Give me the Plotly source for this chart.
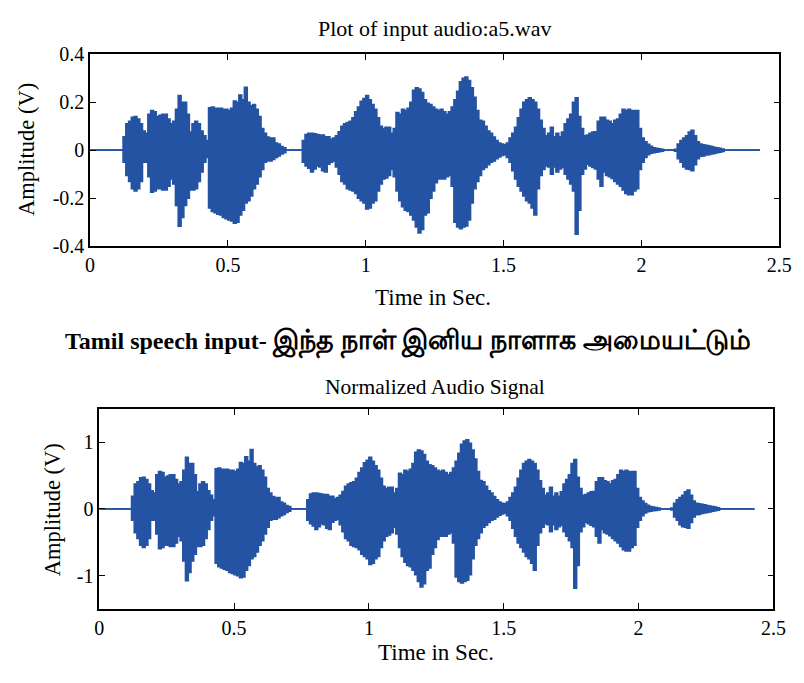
import numpy as np
import plotly.graph_objects as go

# ---------------- data ----------------
t_start = 0.0      # s
t_step = 0.01      # s, sampling grid of the envelope readings

# upper envelope of the input audio (V), one value per 0.01 s from 0.00 s
upper = [
    0, 0, 0, 0, 0, 0, 0, 0, 0, 0,
    0, 0, 0.056, 0.11, 0.12, 0.137, 0.14, 0.13, 0.11, 0.08,
    0.07, 0.15, 0.165, 0.16, 0.14, 0.145, 0.15, 0.15, 0.13, 0.11,
    0.12, 0.17, 0.228, 0.2, 0.2, 0.15, 0.075, 0.11, 0.12, 0.11,
    0.08, 0.06, 0.04, 0.177, 0.18, 0.175, 0.175, 0.175, 0.17, 0.17,
    0.165, 0.175, 0.205, 0.2, 0.23, 0.21, 0.262, 0.2, 0.185, 0.19,
    0.17, 0.14, 0.09, 0.07, 0.055, 0.05, 0.05, 0.03, 0.025, 0.015,
    0.01, 0, 0, 0, 0, 0, 0, 0.04, 0.065, 0.07,
    0.07, 0.068, 0.065, 0.063, 0.063, 0.056, 0.056, 0.045, 0.05, 0.06,
    0.077, 0.1, 0.11, 0.115, 0.12, 0.135, 0.16, 0.18, 0.204, 0.215,
    0.228, 0.21, 0.19, 0.17, 0.135, 0.1, 0.09, 0.095, 0.095, 0.07,
    0.09, 0.157, 0.15, 0.17, 0.165, 0.175, 0.2, 0.25, 0.26, 0.255,
    0.24, 0.21, 0.195, 0.19, 0.18, 0.17, 0.165, 0.17, 0.16, 0.15,
    0.16, 0.18, 0.21, 0.245, 0.285, 0.3, 0.305, 0.29, 0.26, 0.22,
    0.165, 0.125, 0.12, 0.1, 0.08, 0.07, 0.055, 0.04, 0.03, 0.025,
    0.022, 0.03, 0.05, 0.07, 0.095, 0.135, 0.17, 0.2, 0.21, 0.218,
    0.21, 0.2, 0.17, 0.124, 0.09, 0.06, 0.07, 0.095, 0.056, 0.07,
    0.056, 0.075, 0.11, 0.13, 0.15, 0.2, 0.218, 0.14, 0.09, 0.06,
    0.063, 0.07, 0.075, 0.077, 0.12, 0.137, 0.137, 0.124, 0.12, 0.11,
    0.124, 0.13, 0.15, 0.17, 0.165, 0.17, 0.165, 0.165, 0.165, 0.09,
    0.05, 0.035, 0.024, 0.016, 0.01, 0.008, 0.006, 0.004, 0, 0,
    0, 0, 0.004, 0.025, 0.04, 0.05, 0.06, 0.075, 0.083, 0.06,
    0.035, 0.025, 0.022, 0.02, 0.018, 0.015, 0.012, 0.01, 0.008, 0.005,
    0, 0, 0, 0, 0, 0, 0, 0, 0, 0,
    0, 0, 0, 0,
]

# lower envelope of the input audio (V)
lower = [
    0, 0, 0, 0, 0, 0, 0, 0, 0, 0,
    0, 0, -0.05, -0.105, -0.13, -0.16, -0.17, -0.16, -0.13, -0.05,
    -0.05, -0.11, -0.175, -0.17, -0.16, -0.16, -0.165, -0.165, -0.15, -0.12,
    -0.14, -0.23, -0.317, -0.28, -0.23, -0.2, -0.165, -0.165, -0.16, -0.13,
    -0.09, -0.05, -0.03, -0.24, -0.255, -0.26, -0.266, -0.27, -0.28, -0.285,
    -0.29, -0.295, -0.304, -0.3, -0.27, -0.25, -0.22, -0.21, -0.19, -0.16,
    -0.14, -0.11, -0.08, -0.05, -0.045, -0.045, -0.038, -0.03, -0.024, -0.015,
    -0.01, 0, 0, 0, 0, 0, 0, -0.05, -0.065, -0.075,
    -0.09, -0.078, -0.065, -0.07, -0.085, -0.09, -0.058, -0.05, -0.045, -0.07,
    -0.1, -0.13, -0.14, -0.16, -0.165, -0.17, -0.18, -0.2, -0.21, -0.22,
    -0.245, -0.24, -0.22, -0.21, -0.17, -0.14, -0.12, -0.115, -0.105, -0.08,
    -0.11, -0.17, -0.21, -0.235, -0.25, -0.255, -0.27, -0.29, -0.32, -0.345,
    -0.33, -0.27, -0.26, -0.2, -0.17, -0.135, -0.12, -0.12, -0.12, -0.11,
    -0.105, -0.15, -0.3, -0.32, -0.327, -0.32, -0.315, -0.29, -0.22, -0.16,
    -0.13, -0.105, -0.08, -0.072, -0.06, -0.05, -0.045, -0.035, -0.028, -0.022,
    -0.018, -0.03, -0.05, -0.085, -0.12, -0.15, -0.17, -0.19, -0.21, -0.22,
    -0.24, -0.27, -0.16, -0.105, -0.08, -0.065, -0.07, -0.1, -0.07, -0.09,
    -0.078, -0.072, -0.1, -0.12, -0.14, -0.17, -0.35, -0.25, -0.1, -0.078,
    -0.058, -0.065, -0.072, -0.078, -0.12, -0.15, -0.09, -0.105, -0.11, -0.118,
    -0.13, -0.14, -0.15, -0.165, -0.18, -0.185, -0.185, -0.17, -0.16, -0.08,
    -0.05, -0.03, -0.018, -0.012, -0.01, -0.008, -0.006, -0.004, 0, 0,
    0, 0, -0.004, -0.035, -0.05, -0.07, -0.078, -0.08, -0.085, -0.06,
    -0.035, -0.025, -0.024, -0.02, -0.018, -0.015, -0.013, -0.01, -0.008, -0.005,
    0, 0, 0, 0, 0, 0, 0, 0, 0, 0,
    0, 0, 0, 0,
]

norm_ref = 0.295   # reference amplitude used for the normalized signal (V)

x_ticks = [0, 0.5, 1, 1.5, 2, 2.5]
x_ticktext = ["0", "0.5", "1", "1.5", "2", "2.5"]
y1_ticks = [-0.4, -0.2, 0, 0.2, 0.4]
y1_ticktext = ["-0.4", "-0.2", "0", "0.2", "0.4"]
y2_ticks = [-1, 0, 1]
y2_ticktext = ["-1", "0", "1"]

title_top = "Plot of input audio:a5.wav"
title_bottom = "Normalized Audio Signal"
caption_latin = "Tamil speech input-"
caption_tamil = "இந்த நாள் இனிய நாளாக அமையட்டும்"
x_title = "Time in Sec."
y_title = "Amplitude (V)"

# ---------------- figure ----------------
t = np.round(t_start + t_step * np.arange(len(upper)), 2)
up = np.array(upper)
lo = np.array(lower)
up_n = up / norm_ref
lo_n = lo / norm_ref

W, H = 804, 683
BLUE = "#2453a4"
SERIF = "Liberation Serif, Times New Roman, serif"

fig = go.Figure()
for xa, ya, u, l in [("x", "y", up, lo), ("x2", "y2", up_n, lo_n)]:
    fig.add_trace(go.Scatter(x=t, y=u, mode="lines", line=dict(color=BLUE, width=1.7, shape="hv"),
                             xaxis=xa, yaxis=ya, showlegend=False, hoverinfo="skip"))
    fig.add_trace(go.Scatter(x=t, y=l, mode="lines", line=dict(color=BLUE, width=1.7, shape="hv"),
                             fill="tonexty", fillcolor=BLUE,
                             xaxis=xa, yaxis=ya, showlegend=False, hoverinfo="skip"))

def px_x(p):
    return p / W

def px_y(p):
    return 1 - p / H

axis_common = dict(
    showline=True, linecolor="black", linewidth=1.5, mirror="ticks",
    ticks="inside", ticklen=6, tickwidth=1.3, tickcolor="black",
    showgrid=False, zeroline=False,
    tickfont=dict(family=SERIF, size=20, color="black"),
)

fig.update_layout(
    width=W, height=H,
    margin=dict(l=0, r=0, t=0, b=0),
    paper_bgcolor="white", plot_bgcolor="white",
    xaxis=dict(domain=[px_x(87), px_x(792)], range=[0, 2.5], anchor="y",
               tickvals=x_ticks, ticktext=x_ticktext, **axis_common),
    yaxis=dict(domain=[px_y(243), px_y(44.7)], range=[-0.4, 0.4], anchor="x",
               tickvals=y1_ticks, ticktext=y1_ticktext, **axis_common),
    xaxis2=dict(domain=[px_x(96.4), px_x(786)], range=[0, 2.5], anchor="y2",
                tickvals=x_ticks, ticktext=x_ticktext, **axis_common),
    yaxis2=dict(domain=[px_y(618), px_y(411)], range=[-1.5, 1.5], anchor="x2",
                tickvals=y2_ticks, ticktext=y2_ticktext, **axis_common),
)

def ann(text, x, y, size, angle=0):
    fig.add_annotation(
        text=text,
        xref="paper", yref="paper", x=px_x(x), y=px_y(y),
        xanchor="center", yanchor="middle", showarrow=False, textangle=angle,
        font=dict(family=SERIF, size=size, color="black"),
    )

ann(title_top, 439, 18, 22)
ann(x_title, 438, 296, 23)
ann(y_title, 22, 143, 22.5, angle=-90)
ann(f"<b>{caption_latin} <span style='font-size:27px'>{caption_tamil}</span></b>", 412, 342, 24)
ann(title_bottom, 440, 388, 21.5)
ann(x_title, 441, 663, 23)
ann(y_title, 48, 515, 22.5, angle=-90)

fig.write_html("out.html")
